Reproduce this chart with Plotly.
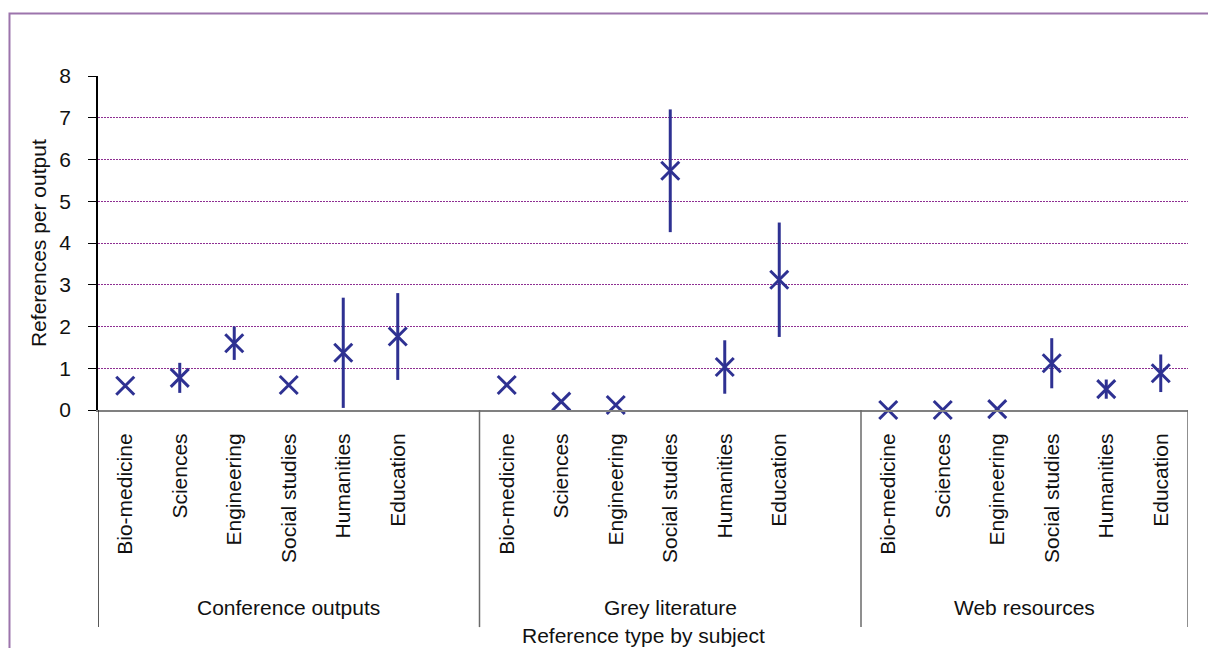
import plotly.graph_objects as go

# Reference types (outer categories) and subjects (inner categories)
groups = ["Conference outputs", "Grey literature", "Web resources"]
subjects = ["Bio-medicine", "Sciences", "Engineering", "Social studies", "Humanities", "Education"]

# Mean references per output and error half-widths, per reference type
conference_mean = [0.58, 0.77, 1.60, 0.60, 1.37, 1.76]
conference_err = [0.0, 0.36, 0.40, 0.0, 1.32, 1.04]
grey_mean = [0.60, 0.20, 0.12, 5.73, 1.03, 3.12]
grey_err = [0.0, 0.0, 0.0, 1.47, 0.64, 1.37]
web_mean = [0.0, 0.0, 0.02, 1.12, 0.50, 0.88]
web_err = [0.0, 0.0, 0.0, 0.60, 0.23, 0.45]

y_ticks = [0, 1, 2, 3, 4, 5, 6, 7, 8]

means = [conference_mean, grey_mean, web_mean]
errs = [conference_err, grey_err, web_err]

# Slot layout: each group gets its subjects plus one empty slot after it (except the last)
xs, ys, es, labels = [], [], [], []
group_bounds = []
pos = 0
for g, name in enumerate(groups):
    start = pos - 0.5
    for i, s in enumerate(subjects):
        xs.append(pos)
        ys.append(means[g][i])
        es.append(errs[g][i])
        labels.append(s)
        pos += 1
    if g < len(groups) - 1:
        pos += 1  # blank slot
    group_bounds.append((start, pos - 0.5))

FONT = "Liberation Sans, Arial, sans-serif"
FS = 21
MARK = "#2E3192"

fig = go.Figure()
fig.add_trace(go.Scatter(
    x=xs, y=ys, mode="markers",
    marker=dict(symbol="x-thin", size=18, line=dict(width=3, color=MARK), color=MARK),
    error_y=dict(type="data", array=es, visible=True, thickness=3, width=0, color=MARK),
    showlegend=False, cliponaxis=False,
))

x_lo, x_hi = group_bounds[0][0], group_bounds[-1][1]

shapes = []
# Outer frame
shapes.append(dict(type="rect", xref="paper", yref="paper",
                   x0=-0.0812, x1=1.05, y0=-0.9, y1=1.187,
                   line=dict(color="#9C74AC", width=2), layer="below"))
# Group dividers below the category axis
bounds = sorted({b for gb in group_bounds for b in gb})
for k, b in enumerate(bounds):
    shapes.append(dict(type="line", xref="x", yref="paper", x0=b, x1=b, y0=0, y1=-0.65,
                       line=dict(color="#222" if k == 0 else "#6a6a6a", width=1.5)))

annotations = []
for (a, b), name in zip(group_bounds, groups):
    annotations.append(dict(x=(a + b) / 2, y=-0.59, xref="x", yref="paper", text=name,
                            showarrow=False, font=dict(size=FS, family=FONT, color="#111"),
                            xanchor="center", yanchor="middle"))
annotations.append(dict(x=(x_lo + x_hi) / 2, y=-0.674, xref="x", yref="paper",
                        text="Reference type by subject", showarrow=False,
                        font=dict(size=FS, family=FONT, color="#111"),
                        xanchor="center", yanchor="middle"))
annotations.append(dict(x=-0.055, y=0.5, xref="paper", yref="paper", text="References per output",
                        textangle=-90, showarrow=False, font=dict(size=FS, family=FONT, color="#111"),
                        xanchor="center", yanchor="middle"))

fig.update_layout(
    width=1208, height=648,
    margin=dict(l=98, r=20, t=76, b=238),
    paper_bgcolor="white", plot_bgcolor="white",
    font=dict(family=FONT, size=FS, color="#111"),
    shapes=shapes, annotations=annotations,
    xaxis=dict(range=[x_lo, x_hi], tickmode="array", tickvals=xs, ticktext=labels,
               tickangle=-90, ticks="", showgrid=False, zeroline=False,
               showline=True, linecolor="#808080", linewidth=2,
               tickfont=dict(size=FS, family=FONT), ticklabelstandoff=13),
    yaxis=dict(range=[0, 8], tickvals=y_ticks, ticks="outside", ticklen=8, tickcolor="#000",
               showline=True, linecolor="#000", linewidth=1.5, zeroline=False,
               showgrid=True, gridcolor="#8E2F92", griddash="2px,1px", gridwidth=1,
               tickfont=dict(size=FS, family=FONT), ticklabelstandoff=13),
)

fig.write_html("out.html")
